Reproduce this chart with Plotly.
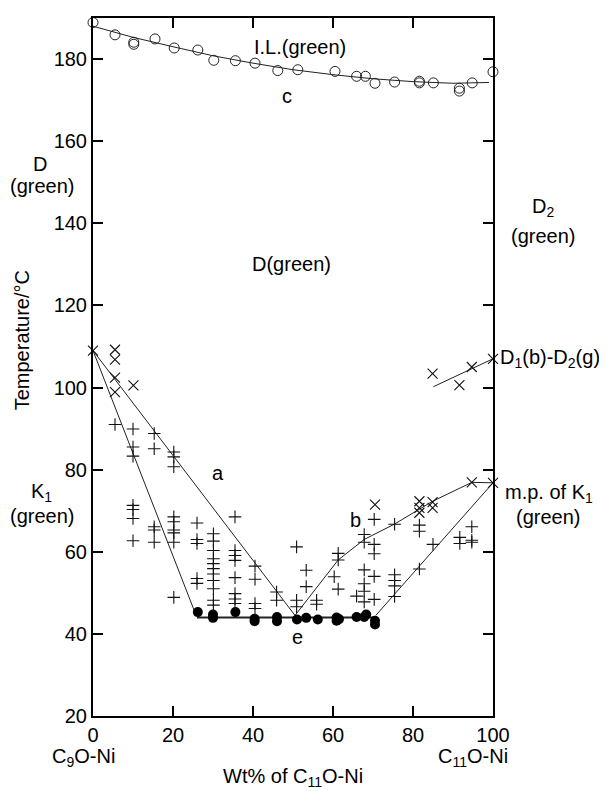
import plotly.graph_objects as go

# ---------------- data ----------------
# open circles: isotropic-liquid transition (curve c)
il_x = [0, 5.5, 10.2, 10.2, 15.5, 20.3, 26.2, 30.2, 35.6, 40.5, 46.2, 51.2, 60.5,
        65.9, 68.1, 70.5, 75.4, 81.6, 81.6, 85.1, 91.6, 91.6, 94.8, 100]
il_y = [188.9, 185.9, 184.1, 183.6, 184.9, 182.7, 182.2, 179.7, 179.6, 179.0, 177.2, 177.4, 177.0,
        175.8, 175.8, 174.1, 174.4, 174.6, 174.2, 174.2, 172.9, 172.2, 174.2, 176.9]

# filled circles: eutectic (line e)
eut_x = [26.2, 30, 30, 35.6, 40.4, 40.4, 46, 46, 51, 53.3, 56.2, 60.9, 60.9, 61.5,
         65.9, 67.8, 68.3, 70.5, 70.5]
eut_y = [45.3, 44.7, 43.9, 45.3, 43.7, 43.1, 44.1, 43.1, 43.5, 43.9, 43.5, 44.0, 43.2, 43.6,
         44.1, 44.1, 44.7, 43.2, 42.3]

# x-shaped markers
xm_x = [0, 5.5, 5.5, 5.5, 5.5, 10.1,
        70.5, 81.6, 81.6, 81.6, 84.9, 84.9, 94.7, 100,
        84.9, 91.6, 94.7, 100]
xm_y = [109, 109.2, 106.8, 102.4, 98.9, 100.5,
        71.5, 72.3, 70.7, 69.5, 72.1, 70.7, 76.9, 76.8,
        103.4, 100.6, 105.0, 107.0]

# plus-shaped markers
pm_x = ([5.5] + [10] * 7 + [15.3] * 5 + [20.2] * 9 + [26] * 5 + [30.1] * 11 +
        [35.5] * 8 + [40.5] * 4 + [45.9] * 2 + [50.9] * 3 + [53.3] * 2 + [55.9] * 2 +
        [60.3] + [61.3] * 3 + [65.9] + [67.8] * 6 + [70.3] * 5 + [75.4] * 5 +
        [81.6] * 3 + [85] + [91.7] * 2 + [94.7] * 3)
pm_y = ([91.0] +
        [89.9, 85.5, 83.3, 71.3, 70.3, 68.1, 62.7] +
        [88.8, 85.1, 66.1, 65.3, 62.3] +
        [84.3, 83.1, 80.7, 68.5, 67.3, 65.3, 64.6, 62.3, 48.9] +
        [67.0, 63.0, 62.0, 53.5, 52.3] +
        [64.4, 62.6, 60.3, 58.3, 57.1, 55.9, 54.6, 53.0, 51.0, 48.2, 47.0] +
        [68.5, 60.3, 59.1, 57.9, 53.7, 49.8, 48.5, 47.4] +
        [56.5, 53.3, 47.4, 46.2] +
        [50.2, 48.2] +
        [61.2, 48.2, 46.6] +
        [55.5, 51.5] +
        [48.2, 47.2] +
        [53.9] +
        [59.6, 58.0, 50.9] +
        [49.2] +
        [64.2, 62.3, 55.6, 52.2, 50.4, 47.8] +
        [67.9, 61.8, 59.5, 54.0, 48.4] +
        [66.7, 54.4, 53.0, 51.7, 49.1] +
        [66.5, 65.0, 55.8] +
        [61.8] +
        [63.5, 62.0] +
        [66.1, 62.8, 62.3])

# guide lines
line_c_x = [0, 10, 20, 30, 40, 50, 60, 70, 80, 90, 99]
line_c_y = [188.0, 185.3, 183.0, 180.8, 179.0, 177.4, 176.2, 175.2, 174.5, 174.1, 174.3]
line_steep_x = [0, 25.5]
line_steep_y = [109, 45.2]
line_a_x = [0, 50.5]
line_a_y = [109, 44.5]
line_e_x = [26, 70.5]
line_e_y = [44, 44]
line_b_x = [50.5, 61.3, 67.8, 75.3, 84.9, 94.7, 100]
line_b_y = [44.5, 58, 63, 66.7, 72.3, 76.9, 76.8]
line_r_x = [70.7, 100]
line_r_y = [44.5, 76.8]
line_d_x = [85.1, 100]
line_d_y = [100.2, 107.0]

x_ticks = [0, 20, 40, 60, 80, 100]
y_ticks = [20, 40, 60, 80, 100, 120, 140, 160, 180]
X_RANGE = [0, 100]
Y_RANGE = [20, 190]

# ---------------- figure ----------------
FONT = "Liberation Sans, Arial, sans-serif"
FS = 20
fig = go.Figure()

def add_line(xs, ys, w=1):
    fig.add_trace(go.Scatter(x=xs, y=ys, mode="lines",
                             line=dict(color="#222", width=w),
                             hoverinfo="skip", cliponaxis=False))

add_line(line_c_x, line_c_y)
add_line(line_steep_x, line_steep_y)
add_line(line_a_x, line_a_y)
add_line(line_e_x, line_e_y, 2)
add_line(line_b_x, line_b_y)
add_line(line_r_x, line_r_y)
add_line(line_d_x, line_d_y)

fig.add_trace(go.Scatter(x=il_x, y=il_y, mode="markers", cliponaxis=False,
                         marker=dict(symbol="circle-open", size=10, color="#222",
                                     line=dict(width=1))))
fig.add_trace(go.Scatter(x=eut_x, y=eut_y, mode="markers", cliponaxis=False,
                         marker=dict(symbol="circle", size=10, color="#000")))
fig.add_trace(go.Scatter(x=xm_x, y=xm_y, mode="markers", cliponaxis=False,
                         marker=dict(symbol="x-thin", size=10, color="#000",
                                     line=dict(width=1.1, color="#111"))))
fig.add_trace(go.Scatter(x=pm_x, y=pm_y, mode="markers", cliponaxis=False,
                         marker=dict(symbol="cross-thin", size=9, color="#000",
                                     line=dict(width=1.1, color="#111"))))

def ann(text, x, y, xanchor="center", angle=0):
    # positions given in data units, converted to paper units so that labels
    # outside the plotting area are still drawn
    px = (x - X_RANGE[0]) / (X_RANGE[1] - X_RANGE[0])
    py = (y - Y_RANGE[0]) / (Y_RANGE[1] - Y_RANGE[0])
    fig.add_annotation(text=text, x=px, y=py, xref="paper", yref="paper", showarrow=False,
                       xanchor=xanchor, yanchor="middle", textangle=angle,
                       font=dict(family=FONT, size=FS, color="#000"))

ann("I.L.(green)", 51.8, 182.9)
ann("c", 48.4, 171)
ann("D(green)", 49.5, 130.2)
ann("a", 31.3, 79.1)
ann("b", 65.5, 67.7)
ann("e", 51, 39.2)
ann("D", -13.3, 154.5)
ann("(green)", -12.8, 149.2)
ann("K<sub>1</sub>", -12.8, 74.5)
ann("(green)", -12.8, 68.7)
ann("D<sub>2</sub>", 112.5, 143.8)
ann("(green)", 112.5, 137.0)
ann("D<sub>1</sub>(b)-D<sub>2</sub>(g)", 101.25, 107.1, xanchor="left")
ann("m.p. of K<sub>1</sub>", 102.5, 74.3, xanchor="left")
ann("(green)", 113.75, 68.4)
ann("C<sub>9</sub>O-Ni", -2.5, 10.0)
ann("C<sub>11</sub>O-Ni", 95, 10.0)
ann("Wt% of C<sub>11</sub>O-Ni", 50, 4.9)
ann("Temperature/°C", -17.75, 111.5, angle=-90)

axis_common = dict(showline=True, linewidth=2, linecolor="#000", mirror="ticks",
                   ticks="inside", ticklen=10, tickwidth=2, tickcolor="#000",
                   showgrid=False, zeroline=False,
                   tickfont=dict(family=FONT, size=FS, color="#000"))
fig.update_xaxes(range=X_RANGE, tickvals=x_ticks, **axis_common)
fig.update_yaxes(range=Y_RANGE, tickvals=y_ticks, **axis_common)

fig.update_layout(width=607, height=791, showlegend=False,
                  margin=dict(l=85, r=122, t=8, b=83, pad=0),
                  paper_bgcolor="white", plot_bgcolor="white",
                  font=dict(family=FONT, size=FS, color="#000"))

fig.write_html("out.html")
